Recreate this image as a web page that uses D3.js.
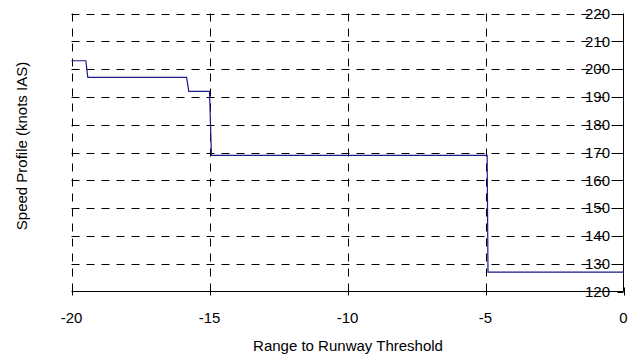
<!DOCTYPE html>
<html>
<head>
<meta charset="utf-8">
<script src="https://cdn.jsdelivr.net/npm/d3@7"></script>
<style>
  body { margin: 0; background: #fff; }
  text { font-family: "Liberation Sans", Arial, sans-serif; fill: #000; font-size: 15px; }
</style>
</head>
<body>
<svg id="chart" width="638" height="356"></svg>
<script>
// speed profile (steps are slightly slanted)
const range = [-20, -19.48, -19.41, -15.83, -15.75, -15.0, -14.93, -4.94, -4.91, 0];
const speed = [203, 203, 197, 197, 192, 192, 169, 169, 127, 127];

const xTicks = [-20, -15, -10, -5, 0];
const yTicks = [120, 130, 140, 150, 160, 170, 180, 190, 200, 210, 220];

const svg = d3.select('#chart');

const x = d3.scaleLinear().domain([-20, 0]).range([71.5, 623.5]);
const y = d3.scaleLinear().domain([120, 220]).range([291.5, 13.5]);

const dash = '8,7';

// horizontal grid
svg.append('g').selectAll('line')
  .data(yTicks.filter(d => d > 120))
  .enter().append('line')
  .attr('x1', x(-20)).attr('x2', x(0))
  .attr('y1', d => Math.round(y(d)) + 0.5)
  .attr('y2', d => Math.round(y(d)) + 0.5)
  .attr('stroke', '#000')
  .attr('stroke-dasharray', dash);

// vertical grid
svg.append('g').selectAll('line')
  .data(xTicks.filter(d => d < 0))
  .enter().append('line')
  .attr('x1', d => Math.round(x(d)) + 0.5)
  .attr('x2', d => Math.round(x(d)) + 0.5)
  .attr('y1', y(220)).attr('y2', y(120))
  .attr('stroke', '#000')
  .attr('stroke-dasharray', dash);

// x axis, ticks crossing the line
const xAxis = svg.append('g');
xAxis.append('line')
  .attr('x1', x(-20)).attr('x2', x(0))
  .attr('y1', y(120)).attr('y2', y(120))
  .attr('stroke', '#000');
xAxis.selectAll('.tick')
  .data(xTicks)
  .enter().append('line')
  .attr('x1', d => Math.round(x(d)) + 0.5)
  .attr('x2', d => Math.round(x(d)) + 0.5)
  .attr('y1', y(120) - 4).attr('y2', y(120) + 4)
  .attr('stroke', '#000');
xAxis.selectAll('text')
  .data(xTicks)
  .enter().append('text')
  .attr('x', d => x(d))
  .attr('y', 322.5)
  .attr('text-anchor', 'middle')
  .text(d => d);

// y axis on the right (crosses at range 0), labels inside
const yAxis = svg.append('g');
yAxis.append('line')
  .attr('x1', x(0)).attr('x2', x(0))
  .attr('y1', y(220)).attr('y2', y(120))
  .attr('stroke', '#000');
yAxis.selectAll('.tick')
  .data(yTicks)
  .enter().append('line')
  .attr('x1', x(0) - 6).attr('x2', x(0))
  .attr('y1', d => Math.round(y(d)) + 0.5)
  .attr('y2', d => Math.round(y(d)) + 0.5)
  .attr('stroke', '#000');
yAxis.selectAll('text')
  .data(yTicks)
  .enter().append('text')
  .attr('x', 610)
  .attr('y', d => y(d))
  .attr('dy', '0.35em')
  .attr('text-anchor', 'end')
  .text(d => d);

// speed line
const line = d3.line()
  .x((d, i) => x(range[i]))
  .y(d => y(d));

svg.append('path')
  .datum(speed)
  .attr('d', line)
  .attr('fill', 'none')
  .attr('stroke', '#1a1a8c')
  .attr('stroke-width', 1.2);

// titles
svg.append('text')
  .attr('x', 348)
  .attr('y', 351)
  .attr('text-anchor', 'middle')
  .text('Range to Runway Threshold');

svg.append('text')
  .attr('transform', 'translate(27,146) rotate(-90)')
  .attr('text-anchor', 'middle')
  .text('Speed Profile (knots IAS)');
</script>
</body>
</html>
